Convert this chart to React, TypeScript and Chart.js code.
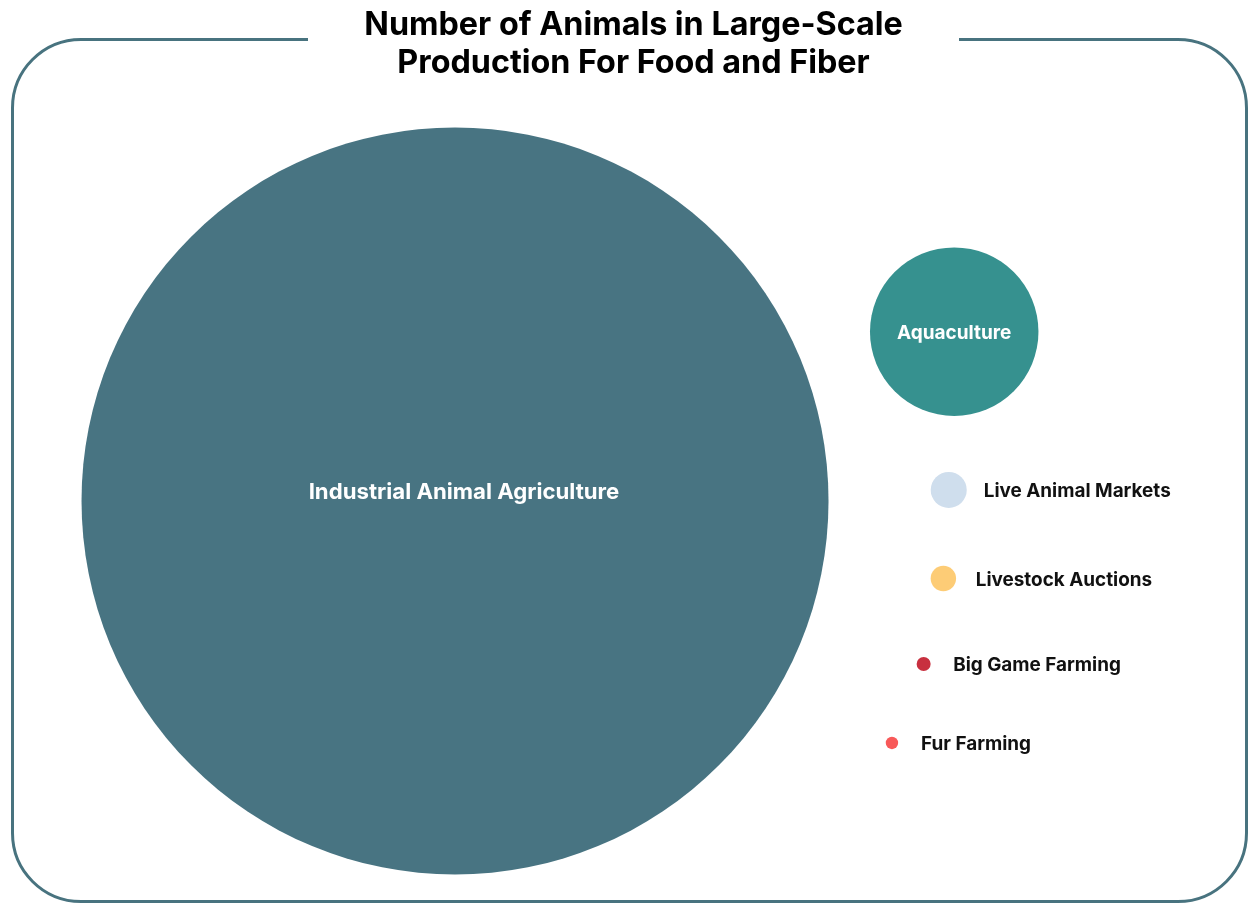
import React, { useEffect, useRef } from "react";
import { Chart, registerables } from "chart.js";

Chart.register(...registerables);

const categories = [
  "Industrial Animal Agriculture",
  "Aquaculture",
  "Live Animal Markets",
  "Livestock Auctions",
  "Big Game Farming",
  "Fur Farming",
];
// number of animals (billions)
const animalsBillions = [80, 4.07, 0.186, 0.0925, 0.0281, 0.022];
// bubble placement on hidden 0–100 axes
const xValues = [36.46, 76.46, 76.02, 75.59, 74.01, 71.47];
const yValues = [44.52, 63.27, 45.74, 35.94, 26.47, 17.72];
const colors = ["#487482", "#36918F", "#CFDEED", "#FDCC76", "#C8303F", "#F85959"];

const TITLE_LINES = ["Number of Animals in Large-Scale", "Production For Food and Fiber"];
const MAX_RADIUS = 373.5;
const BORDER_COLOR = "#48737F";
const W = 1248;
const H = 903;

const labelPlugin = {
  id: "bubbleLabels",
  afterDatasetsDraw(chart: any) {
    const ctx = chart.ctx;
    const meta = chart.getDatasetMeta(0);
    ctx.save();
    meta.data.forEach((el: any, i: number) => {
      const r = el.options.radius;
      const label = categories[i];
      ctx.textBaseline = "middle";
      if (r > 50) {
        const big = r > 200;
        const size = big ? 22.2 : 19;
        ctx.font = `bold ${size}px Inter`;
        ctx.fillStyle = "#FFFFFF";
        ctx.textAlign = "center";
        const dx = big ? r * 0.024 : 0;
        const dy = big ? -r * 0.022 : 2;
        ctx.fillText(label, el.x + dx, el.y + dy);
      } else {
        ctx.font = "bold 18.9px Inter";
        ctx.fillStyle = "#111111";
        ctx.textAlign = "left";
        ctx.fillText(label, el.x + r * 0.5 + 26, el.y + 1.5);
      }
    });
    ctx.restore();
  },
};

export default function App() {
  const canvasRef = useRef<HTMLCanvasElement | null>(null);

  useEffect(() => {
    if (!canvasRef.current) return;
    const maxVal = Math.max(...animalsBillions);
    const chart = new Chart(canvasRef.current, {
      type: "bubble",
      data: {
        labels: categories,
        datasets: [
          {
            label: "Animals",
            data: categories.map((_, i) => ({
              x: xValues[i],
              y: yValues[i],
              r: MAX_RADIUS * Math.sqrt(animalsBillions[i] / maxVal),
            })),
            backgroundColor: colors,
            borderWidth: 0,
            hoverRadius: 0,
            hoverBorderWidth: 0,
            clip: false,
          },
        ],
      },
      options: {
        animation: false,
        responsive: false,
        maintainAspectRatio: false,
        devicePixelRatio: 1,
        layout: { padding: 0, autoPadding: false },
        plugins: {
          legend: { display: false },
          title: { display: false },
          tooltip: { enabled: false },
        },
        scales: {
          x: { type: "linear", min: 0, max: 100, display: false },
          y: { type: "linear", min: 0, max: 100, display: false },
        },
      },
      plugins: [labelPlugin],
    });
    return () => chart.destroy();
  }, []);

  return (
    <div
      style={{
        position: "fixed",
        left: 0,
        top: 0,
        width: W,
        height: H,
        overflow: "hidden",
        background: "#FFFFFF",
        fontFamily: "Inter, sans-serif",
      }}
    >
      <div
        style={{
          position: "absolute",
          left: 11,
          top: 38,
          width: 1237,
          height: 865,
          boxSizing: "border-box",
          border: `3.5px solid ${BORDER_COLOR}`,
          borderRadius: 70,
        }}
      />
      <canvas
        ref={canvasRef}
        width={W}
        height={H}
        style={{ position: "absolute", left: 0, top: 0, width: W, height: H }}
      />
      <div
        style={{
          position: "absolute",
          left: 308,
          width: 651,
          top: 5,
          background: "#FFFFFF",
          textAlign: "center",
          fontWeight: 700,
          fontSize: 32.3,
          lineHeight: "38px",
          color: "#000000",
        }}
      >
        {TITLE_LINES.map((t) => (
          <div key={t}>{t}</div>
        ))}
      </div>
    </div>
  );
}
